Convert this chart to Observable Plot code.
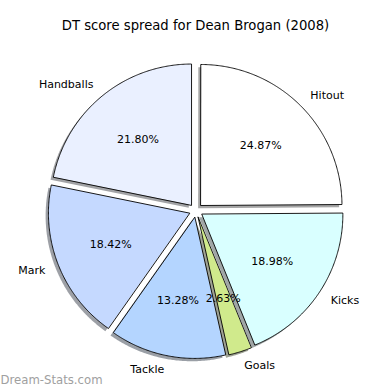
<!DOCTYPE html>
<html>
<head>
<meta charset="utf-8">
<script src="https://cdn.jsdelivr.net/npm/d3@7"></script>
<script src="https://cdn.jsdelivr.net/npm/@observablehq/plot@0.6"></script>
<style>
  html, body { margin: 0; padding: 0; background: #fff; }
  #chart { width: 390px; height: 390px; }
</style>
</head>
<body>
<div id="chart"></div>
<script>
const title = "DT score spread for Dean Brogan (2008)";
const watermark = "Dream-Stats.com";
const labels = ["Handballs", "Mark", "Tackle", "Goals", "Kicks", "Hitout"];
const values = [21.80, 18.42, 13.28, 2.63, 18.98, 24.87];
const colors = ["#eaf0ff", "#c5d9ff", "#b4d5ff", "#d0ea8c", "#d9ffff", "#ffffff"];

const startAngle = 90;     // degrees, counter-clockwise
const explode = 0.05;      // fraction of radius
const shadowOffset = 0.02; // data units
const labelDist = 1.1, pctDist = 0.6;

let acc = startAngle;
const slices = labels.map((name, i) => {
  const sweep = values[i] / 100 * 360;
  const a0 = acc, a1 = acc + sweep;
  acc = a1;
  const mid = (a0 + a1) / 2 * Math.PI / 180;
  const ox = explode * Math.cos(mid), oy = explode * Math.sin(mid);
  return {name, value: values[i], color: colors[i], a0, a1, mid, ox, oy};
});

const wedgePts = [];
const shadowPts = [];
for (const s of slices) {
  const pts = [[s.ox, s.oy]];
  const n = Math.max(4, Math.ceil((s.a1 - s.a0) / 0.5));
  for (let k = 0; k <= n; k++) {
    const a = (s.a0 + (s.a1 - s.a0) * k / n) * Math.PI / 180;
    pts.push([s.ox + Math.cos(a), s.oy + Math.sin(a)]);
  }
  for (const [x, y] of pts) {
    wedgePts.push({name: s.name, x, y, fill: s.color});
    const c = d3.rgb(s.color);
    shadowPts.push({name: s.name, x: x - shadowOffset, y: y - shadowOffset,
      fill: d3.rgb(c.r * 0.3, c.g * 0.3, c.b * 0.3).formatHex()});
  }
}

const labelPts = slices.map(s => ({
  name: s.name,
  x: s.ox + labelDist * Math.cos(s.mid),
  y: s.oy + labelDist * Math.sin(s.mid)
}));
const pctPts = slices.map(s => ({
  text: s.value.toFixed(2) + "%",
  x: s.ox + pctDist * Math.cos(s.mid),
  y: s.oy + pctDist * Math.sin(s.mid)
}));

const R = 141, cx = 195.5, cy = 210, W = 390, H = 390;

const chart = Plot.plot({
  width: W, height: H,
  margin: 0,
  style: {background: "#fff", fontFamily: "DejaVu Sans"},
  x: {domain: [-cx / R, (W - cx) / R], axis: null},
  y: {domain: [(cy - H) / R, cy / R], axis: null},
  color: {type: "identity"},
  marks: [
    Plot.line(shadowPts, {x: "x", y: "y", z: "name", fill: "fill", fillOpacity: 0.5,
      stroke: "none", curve: "linear-closed"}),
    Plot.line(wedgePts, {x: "x", y: "y", z: "name", fill: "fill", stroke: "#000",
      strokeWidth: 0.9, curve: "linear-closed"}),
    Plot.text(pctPts, {x: "x", y: "y", text: "text", fontSize: 11, fill: "#000",
      textAnchor: "middle", lineAnchor: "middle"}),
    Plot.text(labelPts.filter(d => d.x >= 0), {x: "x", y: "y", text: "name", fontSize: 11,
      fill: "#000", textAnchor: "start", lineAnchor: "middle"}),
    Plot.text(labelPts.filter(d => d.x < 0), {x: "x", y: "y", text: "name", fontSize: 11,
      fill: "#000", textAnchor: "end", lineAnchor: "middle"}),
    Plot.text([title], {frameAnchor: "top", dy: 25, text: d => d, fontSize: 13.2,
      fill: "#000", lineAnchor: "middle"}),
    Plot.text([watermark], {frameAnchor: "bottom-left", dy: -10, dx: 0, text: d => d,
      fontSize: 11.7, fill: "#a0a0a0", textAnchor: "start", lineAnchor: "middle"})
  ]
});
document.getElementById("chart").appendChild(chart);
</script>
</body>
</html>
